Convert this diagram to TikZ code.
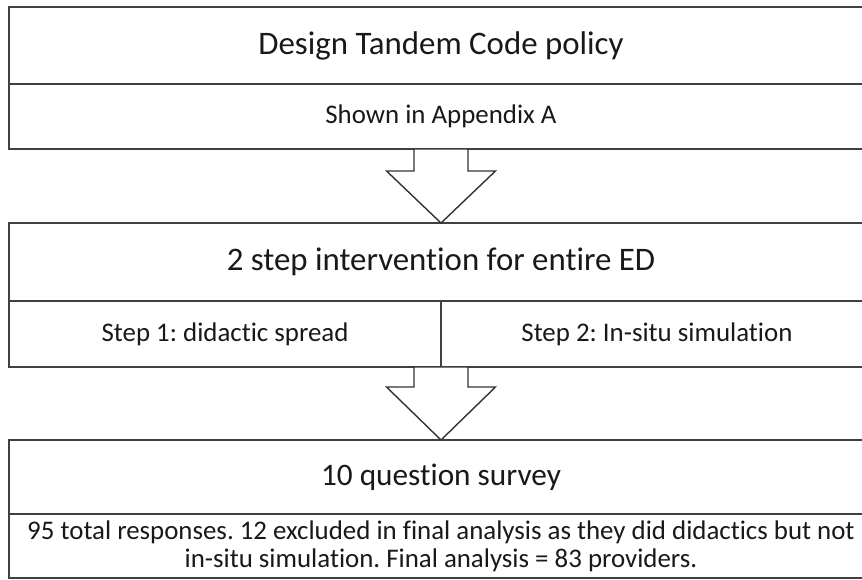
\documentclass[tikz,border=0pt]{standalone}
\usepackage{fontspec}
\setmainfont{Carlito}[Ligatures=NoCommon]
\frenchspacing
\usetikzlibrary{calc,positioning}
\tikzstyle{cell}=[rectangle, draw=black!75, line width=1pt, fill=white, inner sep=0pt, outer sep=0pt, anchor=center, align=center, text=black!90]
\tikzstyle{big}=[font=\fontsize{18.7}{22}\selectfont]
\tikzstyle{small}=[font=\fontsize{15.3}{15.9}\selectfont]
\tikzstyle{blockarrow}=[draw=black!80, line width=0.8pt, fill=white, line join=miter]
\newcommand{\drawblockarrow}[3]
{
  \filldraw[blockarrow] let \p1 = (#1), \p2 = (#2) in
    (\x1-0.54cm,\y1) -- (\x1-0.54cm,\y1-#3) -- (\x1-1.09cm,\y1-#3) -- (\x2,\y2)
    -- (\x1+1.09cm,\y1-#3) -- (\x1+0.54cm,\y1-#3) -- (\x1+0.54cm,\y1) -- cycle;
}

\begin{document}
\begin{tikzpicture}[x=0.02cm, y=-0.02cm]
	\useasboundingbox (0,0) rectangle (862,579);

	% first block
	\node[cell, big, minimum width=17.28cm, minimum height=1.54cm](design) at (441,45.5){Design Tandem Code policy};
	\node[cell, small, minimum width=17.28cm, minimum height=1.3cm, below=0pt of design](appendix){Shown in Appendix A};

	% second block
	\node[cell, big, minimum width=17.28cm, minimum height=1.56cm](intervention) at (441,262){2 step intervention for entire ED};
	\node[cell, small, minimum width=8.64cm, minimum height=1.32cm, anchor=north west](step1) at (intervention.south west){Step 1: didactic spread};
	\node[cell, small, minimum width=8.64cm, minimum height=1.32cm, anchor=north east](step2) at (intervention.south east){Step 2: In-situ simulation};

	% third block
	\node[cell, big, font=\fontsize{17.8}{22}\selectfont, minimum width=17.28cm, minimum height=1.48cm](survey) at (441,477){10 question survey};
	\node[cell, small, minimum width=17.28cm, minimum height=1.28cm, below=0pt of survey](responses){95 total responses. 12 excluded in final analysis as they did didactics but not\\in-situ simulation. Final analysis = 83 providers.};

	\drawblockarrow{appendix.south}{intervention.north}{0.44cm}
	\drawblockarrow{step1.south east}{survey.north}{0.4cm}

\end{tikzpicture}
\end{document}
